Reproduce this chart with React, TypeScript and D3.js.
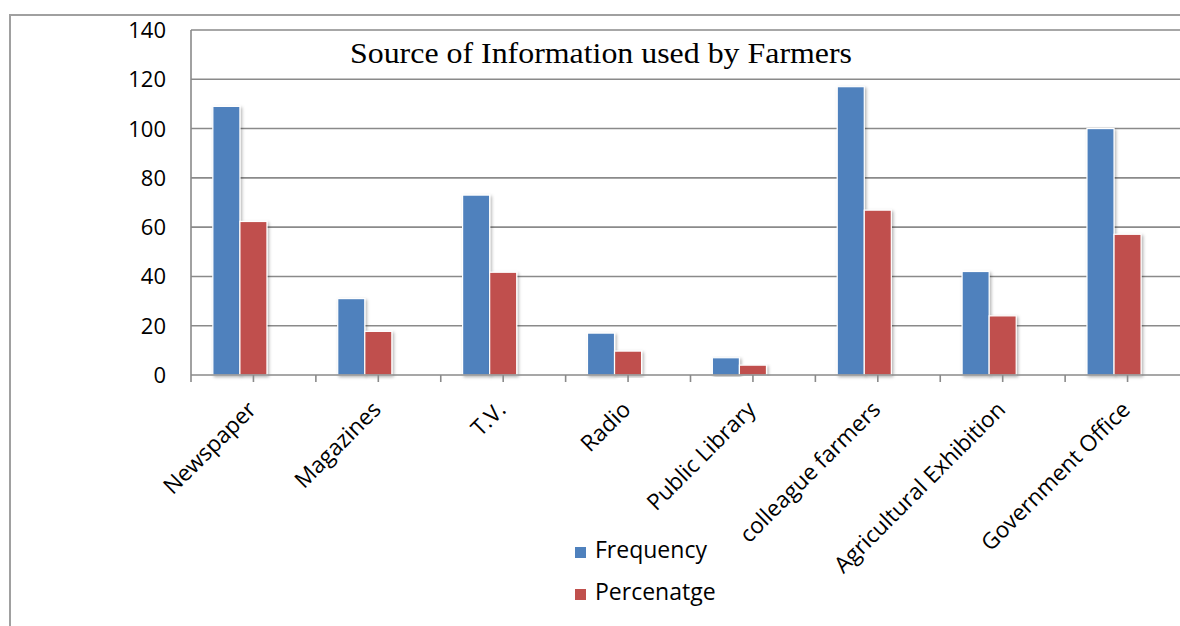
import React from "react";
import * as d3 from "d3";

// values
const categories = [
  "Newspaper",
  "Magazines",
  "T.V.",
  "Radio",
  "Public Library",
  "colleague farmers",
  "Agricultural Exhibition",
  "Government Office",
];
const frequency = [109, 31, 73, 17, 7, 117, 42, 100];
const percentage = [62.3, 17.7, 41.7, 9.7, 4.0, 66.9, 24.0, 57.1];
const seriesNames = ["Frequency", "Percenatge"];
const seriesColors = ["#4f81bd", "#c0504d"];
const yTicks = [0, 20, 40, 60, 80, 100, 120, 140];

const width = 1180;
const height = 626;
const plot = { left: 191, top: 30, bottom: 375, right: 1190 };

const labelFont = "'Open Sans', 'Noto Sans', sans-serif";

const App: React.FC = () => {
  const x = d3
    .scaleBand<string>()
    .domain(categories)
    .range([plot.left, plot.right])
    .paddingInner(0.35)
    .paddingOuter(0.175);

  // Excel leaves room for a third (empty) series slot in each group
  const slot = d3
    .scaleBand<string>()
    .domain([...seriesNames, ""])
    .range([0, x.bandwidth()]);

  const y = d3
    .scaleLinear()
    .domain([0, 140])
    .range([plot.bottom, plot.top]);

  const step = x.step();
  const start = x.range()[0];
  const tickXs = d3.range(categories.length * 2 + 1).map((i) => start + (i * step) / 2);
  const centers = categories.map((_, i) => start + i * step + step / 2);

  const series = [frequency, percentage];

  return (
    <div style={{ position: "absolute", left: 0, top: 0 }}>
      <svg width={width} height={height} style={{ display: "block", background: "#fff" }}>
        <defs>
          <filter id="barShadow" x="-30%" y="-10%" width="160%" height="120%">
            <feDropShadow dx="1.5" dy="1.5" stdDeviation="1.6" floodColor="#000" floodOpacity="0.3" />
          </filter>
        </defs>

        {/* outer chart border */}
        <rect x={10} y={15} width={1200} height={700} fill="none" stroke="#a0a0a0" strokeWidth={2} />

        {/* gridlines */}
        {yTicks
          .filter((t) => t > 0)
          .map((t) => (
            <line
              key={t}
              x1={plot.left}
              x2={plot.right}
              y1={y(t)}
              y2={y(t)}
              stroke="#8a8a8a"
              strokeWidth={1.6}
            />
          ))}

        {/* title */}
        <text
          x={350}
          y={63}
          fontFamily="'Liberation Serif', 'Times New Roman', serif"
          fontSize={29}
          fill="#000"
          textLength={502}
          lengthAdjust="spacingAndGlyphs"
        >
          Source of Information used by Farmers
        </text>

        {/* bars */}
        {series.map((vals, si) =>
          categories.map((c, i) => (
            <rect
              key={`${si}-${c}`}
              x={(x(c) as number) + (slot(seriesNames[si]) as number)}
              y={y(vals[i])}
              width={slot.bandwidth()}
              height={y(0) - y(vals[i])}
              fill={seriesColors[si]}
              stroke="#fff"
              strokeWidth={1.2}
              filter="url(#barShadow)"
            />
          ))
        )}

        {/* axes */}
        <line x1={plot.left} x2={plot.left} y1={plot.top} y2={plot.bottom} stroke="#8a8a8a" strokeWidth={1.6} />
        <line x1={plot.left} x2={plot.right} y1={plot.bottom} y2={plot.bottom} stroke="#8a8a8a" strokeWidth={1.6} />
        {tickXs.map((tx, i) => (
          <line key={i} x1={tx} x2={tx} y1={plot.bottom} y2={plot.bottom + 7} stroke="#8a8a8a" strokeWidth={1.6} />
        ))}

        {/* y labels */}
        {yTicks.map((t) => (
          <text
            key={t}
            x={166}
            y={y(t) + 8}
            textAnchor="end"
            fontFamily={labelFont}
            fontSize={22}
            fill="#000"
          >
            {t}
          </text>
        ))}

        {/* category labels */}
        {categories.map((c, i) => (
          <text
            key={c}
            transform={`translate(${centers[i] + 4},${plot.bottom + 36}) rotate(-45)`}
            textAnchor="end"
            fontFamily={labelFont}
            fontSize={22.5}
            fill="#000"
          >
            {c}
          </text>
        ))}

        {/* legend */}
        {seriesNames.map((name, i) => (
          <g key={name} transform={`translate(575,${547 + i * 42})`}>
            <rect x={0} y={0} width={11} height={11} fill={seriesColors[i]} />
            <text x={20} y={11} fontFamily={labelFont} fontSize={23} fill="#000">
              {name}
            </text>
          </g>
        ))}
      </svg>
    </div>
  );
};

export default App;
